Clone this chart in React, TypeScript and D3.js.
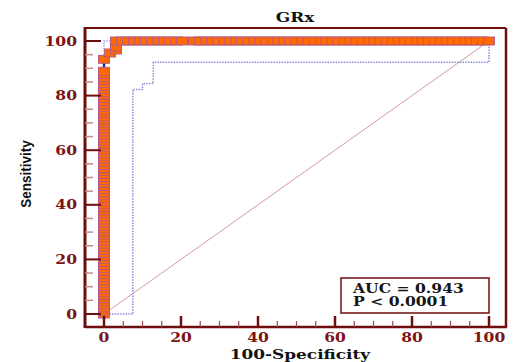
import React from 'react';
import * as d3 from 'd3';

// ROC curve points for GRx
const columnSens = [
  0, 1.1, 2.2, 3.3, 4.4, 5.6, 6.7, 7.8, 8.9, 10, 11.1, 12.2, 13.3, 14.4, 15.6, 16.7, 17.8, 18.9, 20,
  21.1, 22.2, 23.3, 24.4, 25.6, 26.7, 27.8, 28.9, 30, 31.1, 32.2, 33.3, 34.4, 35.6, 36.7, 37.8, 38.9,
  40, 41.1, 42.2, 43.3, 44.4, 45.6, 46.7, 47.8, 48.9, 50, 51.1, 52.2, 53.3, 54.4, 55.6, 56.7, 57.8,
  58.9, 60, 61.1, 62.2, 63.3, 64.4, 65.6, 66.7, 67.8, 68.9, 70, 71.1, 72.2, 73.3, 74.4, 75.6, 76.7,
  77.8, 78.9, 80, 81.1, 82.2, 83.3, 84.4, 85.6, 86.7, 87.8, 88.9,
];
const stepFpr = [0, 1.6, 3.1, 3.1];
const stepSens = [93.3, 95.6, 96.7, 97.8];
const topFpr = [
  3.1, 4.7, 6.3, 7.8, 9.4, 10.9, 12.5, 14.1, 15.6, 17.2, 18.8, 20.3, 23.4, 25, 26.6, 28.1, 29.7,
  31.3, 32.8, 34.4, 35.9, 37.5, 39.1, 40.6, 42.2, 43.8, 45.3, 46.9, 48.4, 50, 51.6, 53.1, 54.7,
  56.3, 57.8, 59.4, 60.9, 62.5, 64.1, 65.6, 67.2, 68.8, 70.3, 71.9, 73.4, 75, 76.6, 78.1, 79.7,
  81.3, 82.8, 84.4, 85.9, 87.5, 89.1, 90.6, 92.2, 93.8, 95.3, 96.9, 98.4, 100,
];

// confidence bounds
const lowerFpr = [0, 7.5, 7.5, 10, 10, 12.8, 12.8, 100, 100];
const lowerSens = [0, 0, 82.2, 82.2, 84.4, 84.4, 92.2, 92.2, 100];
const upperFpr = [0, 0, 100];
const upperSens = [0, 100, 100];

const majorTicks = [0, 20, 40, 60, 80, 100];
const aucLines = ['AUC = 0.943', 'P < 0.0001'];

const W = 513;
const H = 362;
const frame = { left: 85, right: 506, top: 28, bottom: 327 };
const maroon = '#6e0d0d';
const labelColor = '#7d1414';
const serif = '"DejaVu Serif", serif';

export default function App() {
  const x = d3.scaleLinear().domain([0, 100]).range([104, 489]);
  const y = d3.scaleLinear().domain([0, 100]).range([314, 41]);

  const points: [number, number][] = [
    ...columnSens.map(s => [0, s] as [number, number]),
    ...stepFpr.map((f, i) => [f, stepSens[i]] as [number, number]),
    ...topFpr.map(f => [f, 100] as [number, number]),
  ];
  const line = d3.line<[number, number]>().x(d => x(d[0])).y(d => y(d[1]));
  const lower = lowerFpr.map((f, i) => [f, lowerSens[i]] as [number, number]);
  const upper = upperFpr.map((f, i) => [f, upperSens[i]] as [number, number]);
  const minor = d3.range(0, 101, 5).filter(v => v % 20 !== 0);

  return (
    <svg width={W} height={H} style={{ position: 'absolute', left: 0, top: 0, background: '#fff' }}>
      {/* title */}
      <text transform={`translate(295,22) scale(1.3,1)`} textAnchor="middle" fontFamily={serif}
        fontWeight="bold" fontSize={13} fill="#111">GRx</text>

      {/* diagonal reference */}
      <line x1={x(0)} y1={y(0)} x2={x(100)} y2={y(100)} stroke="#d49a9a" strokeWidth={1} />

      {/* confidence bounds */}
      <path d={line(upper) || ''} fill="none" stroke="#a0a0e0" strokeWidth={1.5} strokeDasharray="1.5,1.2" />
      <path d={line(lower) || ''} fill="none" stroke="#8c8cd8" strokeWidth={1.5} strokeDasharray="1.5,1.2" />

      {/* ROC curve */}
      <path d={line(points) || ''} fill="none" stroke="#2b2b9c" strokeWidth={2.5} />
      {points.map((p, i) => (
        <rect key={i} x={x(p[0]) - 5.5} y={y(p[1]) - 4} width={11} height={8}
          fill="#ff6a00" stroke="#b0558a" strokeWidth={0.9} />
      ))}

      {/* frame */}
      <line x1={frame.left} y1={frame.top} x2={frame.right} y2={frame.top} stroke={maroon} strokeWidth={2} />
      <line x1={frame.right} y1={frame.top} x2={frame.right} y2={frame.bottom} stroke={maroon} strokeWidth={2.5} />
      <line x1={frame.left} y1={frame.bottom} x2={frame.right + 1} y2={frame.bottom} stroke={maroon} strokeWidth={2.5} />
      <line x1={frame.left} y1={frame.top - 1} x2={frame.left} y2={frame.bottom + 1} stroke={maroon} strokeWidth={3} />

      {/* y ticks */}
      {minor.map(v => (
        <line key={'ym' + v} x1={frame.left} x2={frame.left + 8} y1={y(v)} y2={y(v)} stroke="#c58a8a" strokeWidth={1.5} />
      ))}
      {majorTicks.map(v => (
        <g key={'y' + v}>
          <line x1={frame.left} x2={frame.left + 16} y1={y(v)} y2={y(v)} stroke={maroon} strokeWidth={2} />
          <text transform={`translate(77,${y(v) + 4.5}) scale(1.3,1)`} textAnchor="end" fontFamily={serif}
            fontWeight="bold" fontSize={12} fill={labelColor}>{v}</text>
        </g>
      ))}

      {/* x ticks */}
      {minor.map(v => (
        <line key={'xm' + v} x1={x(v)} x2={x(v)} y1={frame.bottom} y2={frame.bottom - 6} stroke="#9a4a4a" strokeWidth={1.2} />
      ))}
      {majorTicks.map(v => (
        <g key={'x' + v}>
          <line x1={x(v)} x2={x(v)} y1={frame.bottom} y2={frame.bottom - 11} stroke={maroon} strokeWidth={2.5} />
          <text transform={`translate(${x(v)},342) scale(1.3,1)`} textAnchor="middle" fontFamily={serif}
            fontWeight="bold" fontSize={12} fill={labelColor}>{v}</text>
        </g>
      ))}

      {/* axis titles */}
      <text transform={`translate(300,359) scale(1.3,1)`} textAnchor="middle" fontFamily={serif}
        fontWeight="bold" fontSize={13} fill="#111">100-Specificity</text>
      <text transform={`translate(31,174) rotate(-90) scale(1,1.15)`} textAnchor="middle"
        fontFamily='"Liberation Sans", Arial, sans-serif' fontWeight="bold" fontSize={13.5} fill="#111">Sensitivity</text>

      {/* AUC box */}
      <rect x={341} y={278} width={148} height={35} fill="#fff" stroke={maroon} strokeWidth={1.5} />
      {aucLines.map((t, i) => (
        <text key={t} transform={`translate(353,${293 + i * 13}) scale(1.3,1)`} fontFamily={serif}
          fontWeight="bold" fontSize={12} fill="#151515">{t}</text>
      ))}
    </svg>
  );
}
